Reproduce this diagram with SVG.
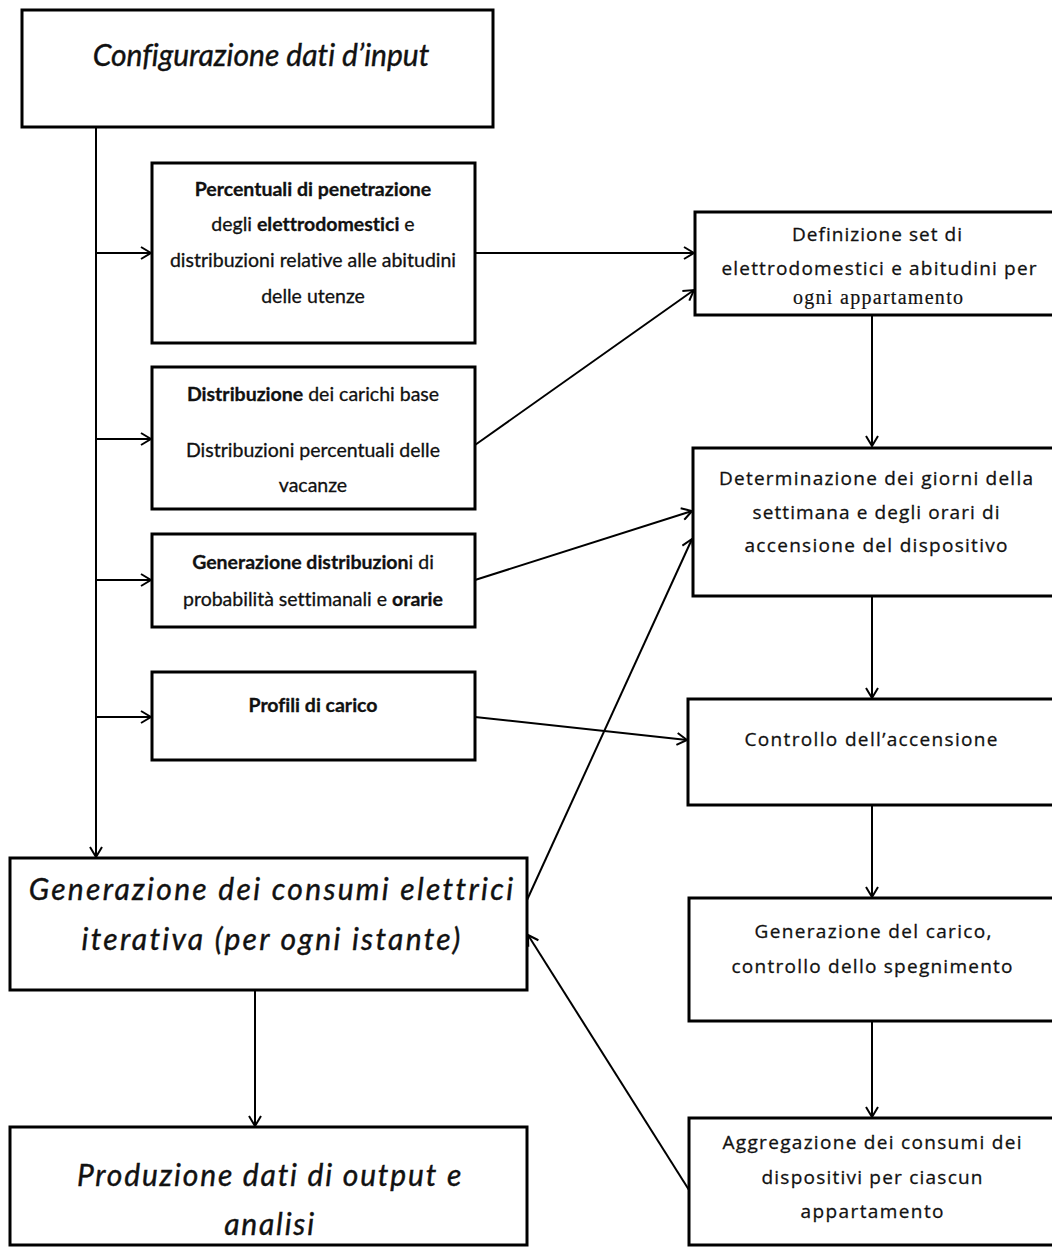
<svg xmlns="http://www.w3.org/2000/svg" width="1052" height="1252" viewBox="0 0 1052 1252">
<style>
.box{fill:#fff;stroke:#000;stroke-width:3}
.c{fill:none;stroke:#000;stroke-width:2}
.t{font-family:Lato,"Open Sans","Liberation Sans",sans-serif;font-size:19.5px;fill:#111;stroke:#111;stroke-width:0.3;text-anchor:middle;font-variant-ligatures:none}
.r{font-family:"Open Sans",Lato,"Liberation Sans",sans-serif;font-size:19px}
.b{font-weight:bold}
.big{font-family:Lato,"Open Sans","Liberation Sans",sans-serif;font-size:30px;font-style:italic;fill:#111;stroke:#111;stroke-width:0.4;text-anchor:middle;font-variant-ligatures:none}
.s{font-family:"Liberation Serif",serif;font-size:20px;stroke-width:0.2}
</style>
<defs>
<marker id="ah" viewBox="0 0 12 14" refX="11" refY="7" markerWidth="12" markerHeight="14" markerUnits="userSpaceOnUse" orient="auto">
<path d="M1,1 L11,7 L1,13" fill="none" stroke="#000" stroke-width="2"/>
</marker>
</defs>
<g id="connectors">
<path class="c" d="M96,127 V857" marker-end="url(#ah)"/>
<path class="c" d="M96,253 H151" marker-end="url(#ah)"/>
<path class="c" d="M96,439 H151" marker-end="url(#ah)"/>
<path class="c" d="M96,580 H151" marker-end="url(#ah)"/>
<path class="c" d="M96,717 H151" marker-end="url(#ah)"/>
<path class="c" d="M475,253 H694" marker-end="url(#ah)"/>
<path class="c" d="M475,445 L694,290" marker-end="url(#ah)"/>
<path class="c" d="M475,580 L692,511" marker-end="url(#ah)"/>
<path class="c" d="M475,717 L687,740" marker-end="url(#ah)"/>
<path class="c" d="M527,900 L692,539" marker-end="url(#ah)"/>
<path class="c" d="M689,1190 L528,935" marker-end="url(#ah)"/>
<path class="c" d="M872,315 V446" marker-end="url(#ah)"/>
<path class="c" d="M872,596 V698" marker-end="url(#ah)"/>
<path class="c" d="M872,805 V897" marker-end="url(#ah)"/>
<path class="c" d="M872,1021 V1117" marker-end="url(#ah)"/>
<path class="c" d="M255,990 V1126" marker-end="url(#ah)"/>
</g>
<g id="n-config">
<rect class="box" x="22" y="10" width="471" height="117"/>
<text class="big" x="261" y="66">Configurazione dati d’input</text>
</g>
<g id="n-percentuali">
<rect class="box" x="152" y="163" width="323" height="180"/>
<text class="t" x="313" y="196"><tspan class="b">Percentuali di penetrazione</tspan></text>
<text class="t" x="313" y="231">degli <tspan class="b">elettrodomestici</tspan> e</text>
<text class="t" x="313" y="267">distribuzioni relative alle abitudini</text>
<text class="t" x="313" y="303">delle utenze</text>
</g>
<g id="n-distribuzione">
<rect class="box" x="152" y="367" width="323" height="142"/>
<text class="t" x="313" y="401"><tspan class="b">Distribuzione</tspan> dei carichi base</text>
<text class="t" x="313" y="457">Distribuzioni percentuali delle</text>
<text class="t" x="313" y="492">vacanze</text>
</g>
<g id="n-gendistr">
<rect class="box" x="152" y="534" width="323" height="93"/>
<text class="t" x="313" y="569"><tspan class="b">Generazione distribuzion</tspan>i di</text>
<text class="t" x="313" y="606">probabilità settimanali e <tspan class="b">orarie</tspan></text>
</g>
<g id="n-profili">
<rect class="box" x="152" y="672" width="323" height="88"/>
<text class="t b" x="313" y="712">Profili di carico</text>
</g>
<g id="n-genconsumi">
<rect class="box" x="10" y="858" width="517" height="132"/>
<text class="big" x="272" y="900" font-size="31" letter-spacing="2.3">Generazione dei consumi elettrici</text>
<text class="big" x="272" y="950" font-size="31" letter-spacing="2.3">iterativa (per ogni istante)</text>
</g>
<g id="n-produzione">
<rect class="box" x="10" y="1127" width="517" height="118"/>
<text class="big" x="270" y="1186" font-size="31" letter-spacing="1.8">Produzione dati di output e</text>
<text class="big" x="270" y="1235" font-size="31" letter-spacing="1.8">analisi</text>
</g>
<g id="n-definizione">
<rect class="box" x="695" y="212" width="365" height="103"/>
<text class="t r" x="877" y="241" textLength="170" lengthAdjust="spacing">Definizione set di</text>
<text class="t r" x="879" y="275" textLength="315" lengthAdjust="spacing">elettrodomestici e abitudini per</text>
<text class="t s" x="878" y="304" textLength="170" lengthAdjust="spacing">ogni appartamento</text>
</g>
<g id="n-determinazione">
<rect class="box" x="693" y="448" width="367" height="148"/>
<text class="t r" x="876" y="485" textLength="314" lengthAdjust="spacing">Determinazione dei giorni della</text>
<text class="t r" x="876" y="519" textLength="247" lengthAdjust="spacing">settimana e degli orari di</text>
<text class="t r" x="876" y="552" textLength="263" lengthAdjust="spacing">accensione del dispositivo</text>
</g>
<g id="n-controllo">
<rect class="box" x="688" y="699" width="372" height="106"/>
<text class="t r" x="871" y="746" textLength="253" lengthAdjust="spacing">Controllo dell’accensione</text>
</g>
<g id="n-gencarico">
<rect class="box" x="689" y="898" width="371" height="123"/>
<text class="t r" x="873" y="938" textLength="237" lengthAdjust="spacing">Generazione del carico,</text>
<text class="t r" x="872" y="973" textLength="281" lengthAdjust="spacing">controllo dello spegnimento</text>
</g>
<g id="n-aggregazione">
<rect class="box" x="689" y="1118" width="371" height="127"/>
<text class="t r" x="872" y="1149" textLength="299" lengthAdjust="spacing">Aggregazione dei consumi dei</text>
<text class="t r" x="872" y="1184" textLength="221" lengthAdjust="spacing">dispositivi per ciascun</text>
<text class="t r" x="872" y="1218" textLength="143" lengthAdjust="spacing">appartamento</text>
</g>
</svg>
